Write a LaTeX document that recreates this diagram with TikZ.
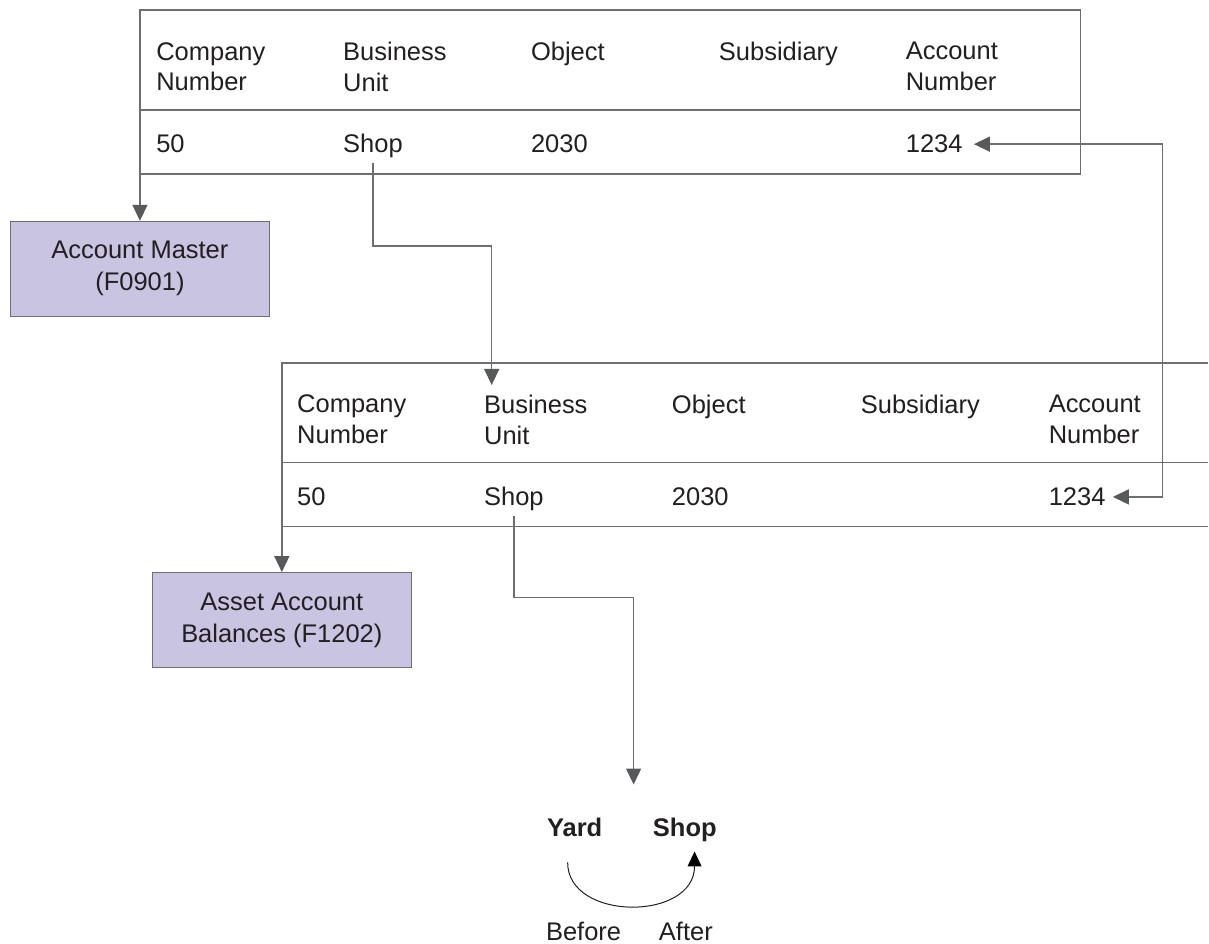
\documentclass[tikz,border=0pt]{standalone}
\usepackage{fontspec}
\setmainfont{Liberation Sans}
\usetikzlibrary{arrows.meta, positioning}
\definecolor{linegray}{HTML}{6D6E71}
\definecolor{tipgray}{HTML}{58595B}
\definecolor{boxfill}{HTML}{C8C4E2}
\definecolor{ink}{HTML}{231F20}
\tikzset{grayhead/.tip={Triangle[width=7.5pt, length=8pt, color=tipgray]}}

\begin{document}
\begin{tikzpicture}[x=0.5pt, y=-0.5pt,
  cell/.style={anchor=base west, inner sep=0pt, align=left, text=ink, font=\fontsize{12.75}{15.35}\selectfont},
  head/.style={cell, anchor=north west},
  boldcell/.style={cell, font=\fontsize{12.75}{15.35}\selectfont\bfseries},
  tbl/.style={draw=linegray, line width=0.75pt},
  tbox/.style={draw=linegray, line width=0.6pt, fill=boxfill, inner sep=0pt, minimum width=129.5pt, minimum height=47.5pt, align=center, text=ink, font=\fontsize{12.75}{16}\selectfont},
  link/.style={draw=linegray, line width=0.75pt, -grayhead}]
  \fill[white] (0,0) rectangle (1209,944);

  % first record
  \draw[tbl] (140,10) rectangle (1081,174);
  \draw[tbl] (140,110) -- (1081,110);
  \coordinate (t1sw) at (140,174);

  \node[head] (co1) at (156,42) {Company\\Number};
  \node[head] (bu1) at (343,42) {Business\\Unit};
  \node[head] (ob1) at (531,42) {Object};
  \node[head] (su1) at (719,42) {Subsidiary};
  \node[head] (ac1) at (906,42) {Account\\Number};

  \node[cell] (cv1) at (156,153) {50};
  \node[cell] (bv1) at (343,153) {Shop};
  \node[cell] (ov1) at (531,153) {2030};
  \node[cell] (av1) at (906,153) {1234};

  % second record
  \draw[tbl] (1209,363) -- (282,363) -- (282,527) -- (1209,527);
  \draw[tbl] (282,463) -- (1209,463);
  \coordinate (t2sw) at (282,527);

  \node[head] (co2) at (297,395) {Company\\Number};
  \node[head] (bu2) at (484,395) {Business\\Unit};
  \node[head] (ob2) at (672,395) {Object};
  \node[head] (su2) at (861,395) {Subsidiary};
  \node[head] (ac2) at (1049,395) {Account\\Number};

  \node[cell] (cv2) at (297,506) {50};
  \node[cell] (bv2) at (484,506) {Shop};
  \node[cell] (ov2) at (672,506) {2030};
  \node[cell] (av2) at (1049,506) {1234};

  % tables
  \node[tbox] (am) at (140,269) {Account Master\\(F0901)};
  \node[tbox] (aab) at (282,620.5) {Asset Account\\Balances (F1202)};

  % before and after
  \node[boldcell] (yard) at (547,837) {Yard};
  \node[boldcell] (shop3) at (653,837) {Shop};
  \node[cell] (before) at (546,941) {Before};
  \node[cell] (after) at (659,941) {After};

  \coordinate (bend1) at (492,246);
  \coordinate (bend2) at (634,598);
  \coordinate (swap) at (634,785);
  \coordinate (rgt) at (1163,320);
  \coordinate (yfoot) at (568,863);
  \coordinate (sfoot) at (695,852);

  \draw[link] (t1sw) -- (am.north);
  \draw[link] (t2sw) -- (aab.north);
  \draw[link, shorten <=2.3pt, shorten >=4.9pt] (bv1.south) |- (bend1) -- (bend1 |- bu2.north);
  \draw[link, shorten <=2.3pt] (bv2.south) |- (bend2) -- (swap);
  \draw[link, grayhead-grayhead, shorten <=5.5pt, shorten >=3.5pt] (av1.east) -| (rgt) |- (av2.east);
  \draw[draw=ink, line width=0.5pt, -{Triangle[width=7pt, length=7.5pt, color=black]}] (yfoot) .. controls (568,922) and (695,922) .. (sfoot);
\end{tikzpicture}
\end{document}
